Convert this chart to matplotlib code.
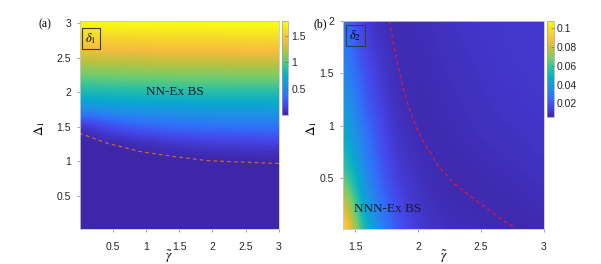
import numpy as np
import matplotlib.pyplot as plt
from matplotlib.colors import LinearSegmentedColormap

plt.rcParams['font.family'] = ['Liberation Sans', 'DejaVu Sans']
plt.rcParams['mathtext.fontset'] = 'stix'

# ---- panel (a): delta_1 over (gamma, Delta_1) ----
gamma_a = [0.0, 0.5, 1.0, 1.5, 2.0, 2.5, 3.0]
delta_a = [0.0, 0.25, 0.5, 0.75, 1.0, 1.25, 1.5, 1.75, 2.0, 2.25, 2.5, 2.75, 3.0]
gap_a = [
    [0.00, 0.00, 0.00, 0.00, 0.00, 0.00, 0.00],
    [0.00, 0.00, 0.00, 0.00, 0.00, 0.00, 0.00],
    [0.00, 0.00, 0.00, 0.00, 0.00, 0.00, 0.00],
    [0.00, 0.00, 0.00, 0.00, 0.00, 0.00, 0.00],
    [0.00, 0.00, 0.00, 0.00, 0.00, 0.01, 0.01],
    [0.00, 0.02, 0.06, 0.10, 0.13, 0.14, 0.15],
    [0.10, 0.22, 0.30, 0.34, 0.36, 0.37, 0.38],
    [0.50, 0.55, 0.58, 0.60, 0.61, 0.61, 0.62],
    [0.82, 0.84, 0.85, 0.86, 0.87, 0.87, 0.87],
    [1.06, 1.08, 1.09, 1.10, 1.10, 1.11, 1.11],
    [1.30, 1.31, 1.32, 1.33, 1.33, 1.34, 1.34],
    [1.53, 1.54, 1.55, 1.56, 1.56, 1.57, 1.57],
    [1.75, 1.76, 1.77, 1.77, 1.78, 1.78, 1.78],
]
# boundary (dashed line)
line_a_gamma = [0.0, 0.43, 0.93, 1.43, 1.94, 2.44, 3.0]
line_a_delta = [1.41, 1.26, 1.14, 1.07, 1.01, 0.99, 0.97]

# ---- panel (b): delta_2 over (gamma, Delta_1) ----
gamma_b = [1.4, 1.6, 1.8, 2.0, 2.2, 2.4, 2.6, 2.8, 3.0]
delta_b = [0.0, 0.25, 0.5, 0.75, 1.0, 1.25, 1.5, 1.75, 2.0]
gap_b = [
    [0.097, 0.049, 0.0240, 0.0135, 0.0095, 0.0085, 0.0078, 0.0070, 0.0075],
    [0.082, 0.041, 0.0200, 0.0115, 0.0085, 0.0078, 0.0076, 0.0078, 0.0085],
    [0.065, 0.034, 0.0165, 0.0100, 0.0078, 0.0075, 0.0080, 0.0088, 0.0095],
    [0.053, 0.029, 0.0140, 0.0088, 0.0076, 0.0082, 0.0090, 0.0098, 0.0105],
    [0.045, 0.025, 0.0120, 0.0080, 0.0080, 0.0090, 0.0100, 0.0105, 0.0110],
    [0.039, 0.021, 0.0105, 0.0078, 0.0085, 0.0095, 0.0105, 0.0110, 0.0115],
    [0.034, 0.018, 0.0095, 0.0080, 0.0090, 0.0100, 0.0110, 0.0115, 0.0120],
    [0.030, 0.015, 0.0088, 0.0083, 0.0095, 0.0105, 0.0112, 0.0118, 0.0120],
    [0.027, 0.013, 0.0080, 0.0087, 0.0098, 0.0110, 0.0115, 0.0120, 0.0120],
]
line_b_gamma = [1.774, 1.803, 1.84, 1.907, 1.98, 2.05, 2.16, 2.29, 2.42, 2.62, 2.78]
line_b_delta = [2.0, 1.8, 1.57, 1.25, 1.0, 0.84, 0.62, 0.45, 0.33, 0.15, 0.02]

# parula-like colormap
parula = LinearSegmentedColormap.from_list('parula', [
    (0.00, (0.2422, 0.1504, 0.6603)),
    (0.10, (0.2737, 0.2710, 0.9126)),
    (0.20, (0.1900, 0.4400, 0.9800)),
    (0.30, (0.1200, 0.5700, 0.9000)),
    (0.40, (0.0300, 0.6700, 0.8000)),
    (0.50, (0.1600, 0.7500, 0.6500)),
    (0.60, (0.4500, 0.8000, 0.4300)),
    (0.70, (0.7300, 0.7600, 0.2500)),
    (0.80, (0.9700, 0.7400, 0.2400)),
    (0.90, (0.9600, 0.8600, 0.1600)),
    (1.00, (0.9769, 0.9839, 0.0805)),
])

TICK_FS = 7.5
SERIF = ['Liberation Serif', 'DejaVu Serif']


def draw_panel(ax, cax, gam, dlt, vals, vmin, vmax, lg, ld, lcolor):
    z = np.array(vals)
    dg = gam[1] - gam[0]
    dd = dlt[1] - dlt[0]
    ext = [gam[0] - dg / 2, gam[-1] + dg / 2, dlt[0] - dd / 2, dlt[-1] + dd / 2]
    # catrom passes through the grid values (agg "bicubic" is a smoothing B-spline)
    im = ax.imshow(z, origin='lower', extent=ext, aspect='auto',
                   interpolation='catrom', interpolation_stage='data',
                   cmap=parula, vmin=vmin, vmax=vmax)
    ax.plot(lg, ld, color=lcolor, lw=0.9, dashes=(3, 2.5))
    for s in ax.spines.values():
        s.set_color('#c8c8c8')
        s.set_linewidth(0.6)
    ax.tick_params(direction='out', length=2.5, width=0.5, color='#808080',
                   labelsize=TICK_FS, labelcolor='#262626')
    ax.tick_params(axis='x', pad=7)
    ax.tick_params(axis='y', pad=4)
    cb = plt.colorbar(im, cax=cax)
    cb.outline.set_edgecolor('#a0a0a0')
    cb.outline.set_linewidth(0.5)
    cax.tick_params(direction='in', length=2, width=0.4, color='#606060',
                    labelsize=TICK_FS, labelcolor='#262626', pad=2)
    return cb


fig = plt.figure(figsize=(6.01, 2.64), dpi=100)
ax_a = fig.add_axes([0.1331, 0.1326, 0.3311, 0.789])
cax_a = fig.add_axes([0.4692, 0.5644, 0.0108, 0.356])
ax_b = fig.add_axes([0.5707, 0.1326, 0.3344, 0.789])
cax_b = fig.add_axes([0.9101, 0.5587, 0.0116, 0.3617])

cb_a = draw_panel(ax_a, cax_a, gamma_a, delta_a, gap_a, 0.0, 1.78,
                  line_a_gamma, line_a_delta, '#c8603f')
ax_a.set_xlim(0.01, 3.0)
ax_a.set_ylim(0.02, 3.04)
ax_a.set_xticks([0.5, 1, 1.5, 2, 2.5, 3])
ax_a.set_xticklabels(['0.5', '1', '1.5', '2', '2.5', '3'])
ax_a.set_yticks([0.5, 1, 1.5, 2, 2.5, 3])
ax_a.set_yticklabels(['0.5', '1', '1.5', '2', '2.5', '3'])
cb_a.set_ticks([0.5, 1, 1.5])
cb_a.set_ticklabels(['0.5', '1', '1.5'])

cb_b = draw_panel(ax_b, cax_b, gamma_b, delta_b, gap_b, 0.006, 0.1075,
                  line_b_gamma, line_b_delta, '#dc1a3a')
ax_b.set_xlim(1.405, 3.0)
ax_b.set_ylim(0.02, 2.0)
ax_b.set_xticks([1.5, 2, 2.5, 3])
ax_b.set_xticklabels(['1.5', '2', '2.5', '3'])
ax_b.set_yticks([0.5, 1, 1.5, 2])
ax_b.set_yticklabels(['0.5', '1', '1.5', '2'])
cb_b.set_ticks([0.02, 0.04, 0.06, 0.08, 0.1])
cb_b.set_ticklabels(['0.02', '0.04', '0.06', '0.08', '0.1'])

# labels
ax_a.set_xlabel(r'$\tilde{\gamma}$', fontsize=9.5)
ax_a.xaxis.set_label_coords(0.447, -0.095)
ax_a.set_ylabel(r'$\Delta_1$', fontsize=9.5)
ax_a.yaxis.set_label_coords(-0.165, 0.485)
ax_b.set_xlabel(r'$\tilde{\gamma}$', fontsize=9.5)
ax_b.xaxis.set_label_coords(0.5, -0.095)
ax_b.set_ylabel(r'$\Delta_1$', fontsize=9.5)
ax_b.yaxis.set_label_coords(-0.12, 0.485)

ax_a.text(-0.176, 0.984, '(a)', transform=ax_a.transAxes, family=SERIF,
          fontsize=8.5, ha='center', va='center')
ax_b.text(-0.114, 0.984, '(b)', transform=ax_b.transAxes, family=SERIF,
          fontsize=8.5, ha='center', va='center')

box = dict(boxstyle='square,pad=0.25', fc='none', ec='#3a3a3a', lw=0.8)
ax_a.text(0.055, 0.914, r'$\delta_1$', transform=ax_a.transAxes, fontsize=9,
          ha='center', va='center', bbox=box)
ax_b.text(0.062, 0.927, r'$\delta_2$', transform=ax_b.transAxes, fontsize=9,
          ha='center', va='center', bbox=box)

ax_a.text(1.44, 2.0, 'NN-Ex BS', family=SERIF, fontsize=9.5,
          ha='center', va='center', color='#1a1a2a')
ax_b.text(1.76, 0.21, 'NNN-Ex BS', family=SERIF, fontsize=9.5,
          ha='center', va='center', color='#1a1a2a')

fig.savefig('out.png', dpi=100)
